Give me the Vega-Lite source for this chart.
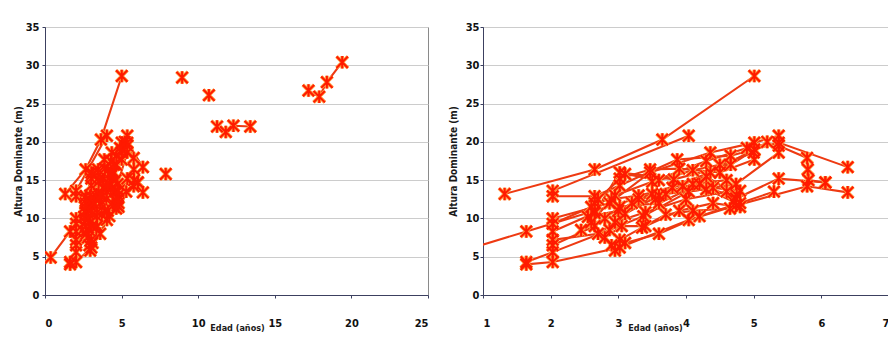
{
  "$schema": "https://vega.github.io/schema/vega-lite/v6.json",
  "background": "white",
  "padding": {"left": 12, "top": 20, "right": 0, "bottom": 0},
  "spacing": 55,
  "bounds": "flush",
  "config": {
    "font": "DejaVu Sans Condensed",
    "view": {"stroke": "#8a8a8a", "strokeWidth": 1},
    "axis": {
      "domainColor": "#3c4060",
      "tickColor": "#3c4060",
      "tickSize": 3,
      "labelFont": "DejaVu Sans Condensed",
      "labelFontWeight": "bold",
      "labelFontSize": 11,
      "labelColor": "#111111",
      "titleFont": "DejaVu Sans Condensed",
      "titleFontWeight": "bold",
      "titleFontSize": 10,
      "titleColor": "#1a1a1a",
      "gridColor": "#cccccc",
      "gridWidth": 1
    },
    "axisX": {"grid": false, "labelPadding": 19, "titleBaseline": "middle", "titleY": 32, "titleFontSize": 9},
    "axisY": {"grid": true, "labelPadding": 3}
  },
  "datasets": {
    "d": [
      {"s": "A", "a": 1.32, "h": 13.2}, {"s": "A", "a": 2.65, "h": 16.4}, {"s": "A", "a": 3.65, "h": 20.3}, {"s": "A", "a": 5.01, "h": 28.6},
      {"s": "B", "a": 2.03, "h": 13.6}, {"s": "B", "a": 4.04, "h": 20.8},
      {"s": "C", "a": 0.37, "h": 4.9}, {"s": "C", "a": 1.64, "h": 8.3}, {"s": "C", "a": 2.65, "h": 11.0}, {"s": "C", "a": 3.5, "h": 13.2}, {"s": "C", "a": 4.36, "h": 16.0}, {"s": "C", "a": 5.01, "h": 19.0},
      {"s": "D", "a": 2.03, "h": 12.9}, {"s": "D", "a": 2.65, "h": 12.9}, {"s": "D", "a": 3.02, "h": 14.3}, {"s": "D", "a": 3.87, "h": 17.7}, {"s": "D", "a": 4.66, "h": 18.2}, {"s": "D", "a": 5.37, "h": 19.9}, {"s": "D", "a": 6.39, "h": 16.7},
      {"s": "E", "a": 2.03, "h": 10.0}, {"s": "E", "a": 2.87, "h": 12.0}, {"s": "E", "a": 3.47, "h": 16.0}, {"s": "E", "a": 4.36, "h": 18.6}, {"s": "E", "a": 5.01, "h": 19.9}, {"s": "E", "a": 5.37, "h": 20.8},
      {"s": "F", "a": 2.03, "h": 8.3}, {"s": "F", "a": 2.65, "h": 10.7}, {"s": "F", "a": 3.02, "h": 16.0}, {"s": "F", "a": 3.82, "h": 15.1}, {"s": "F", "a": 4.66, "h": 17.0}, {"s": "F", "a": 5.2, "h": 20.0},
      {"s": "G", "a": 1.64, "h": 4.3}, {"s": "G", "a": 2.03, "h": 5.6}, {"s": "G", "a": 2.87, "h": 8.5}, {"s": "G", "a": 3.37, "h": 10.3}, {"s": "G", "a": 4.04, "h": 13.5}, {"s": "G", "a": 4.74, "h": 14.5}, {"s": "G", "a": 5.37, "h": 18.6},
      {"s": "H", "a": 1.64, "h": 4.0}, {"s": "H", "a": 2.03, "h": 4.3}, {"s": "H", "a": 3.02, "h": 6.2}, {"s": "H", "a": 4.04, "h": 9.8}, {"s": "H", "a": 4.74, "h": 11.7}, {"s": "H", "a": 5.79, "h": 14.2}, {"s": "H", "a": 6.39, "h": 13.4},
      {"s": "I", "a": 2.03, "h": 6.5}, {"s": "I", "a": 2.65, "h": 9.0}, {"s": "I", "a": 3.02, "h": 11.5}, {"s": "I", "a": 3.6, "h": 12.0}, {"s": "I", "a": 4.2, "h": 14.5}, {"s": "I", "a": 4.74, "h": 12.6}, {"s": "I", "a": 5.37, "h": 15.2}, {"s": "I", "a": 6.06, "h": 14.7},
      {"s": "J", "a": 2.03, "h": 7.2}, {"s": "J", "a": 2.7, "h": 8.0}, {"s": "J", "a": 2.95, "h": 9.5}, {"s": "J", "a": 3.4, "h": 10.8}, {"s": "J", "a": 4.0, "h": 12.5}, {"s": "J", "a": 4.6, "h": 13.5},
      {"s": "K", "a": 2.65, "h": 12.0}, {"s": "K", "a": 3.02, "h": 15.2}, {"s": "K", "a": 3.47, "h": 16.4}, {"s": "K", "a": 3.9, "h": 16.5}, {"s": "K", "a": 4.5, "h": 16.0}, {"s": "K", "a": 5.01, "h": 17.7},
      {"s": "L", "a": 2.6, "h": 9.5}, {"s": "L", "a": 2.9, "h": 12.5}, {"s": "L", "a": 3.3, "h": 13.0}, {"s": "L", "a": 3.8, "h": 14.0}, {"s": "L", "a": 4.3, "h": 15.5}, {"s": "L", "a": 4.75, "h": 13.0},
      {"s": "M", "a": 2.8, "h": 7.5}, {"s": "M", "a": 3.05, "h": 9.0}, {"s": "M", "a": 3.4, "h": 9.0}, {"s": "M", "a": 3.9, "h": 11.0}, {"s": "M", "a": 4.4, "h": 12.0}, {"s": "M", "a": 4.8, "h": 11.5},
      {"s": "N", "a": 2.55, "h": 10.2}, {"s": "N", "a": 3.0, "h": 11.0}, {"s": "N", "a": 3.3, "h": 12.5}, {"s": "N", "a": 3.7, "h": 13.2}, {"s": "N", "a": 4.3, "h": 13.8}, {"s": "N", "a": 4.7, "h": 12.2},
      {"s": "O", "a": 2.9, "h": 6.5}, {"s": "O", "a": 3.02, "h": 7.2}, {"s": "O", "a": 3.35, "h": 8.8}, {"s": "O", "a": 3.7, "h": 10.5}, {"s": "O", "a": 4.1, "h": 11.0}, {"s": "O", "a": 4.65, "h": 11.3},
      {"s": "P", "a": 2.7, "h": 12.5}, {"s": "P", "a": 3.1, "h": 15.8}, {"s": "P", "a": 3.6, "h": 15.0}, {"s": "P", "a": 4.1, "h": 16.3}, {"s": "P", "a": 4.5, "h": 17.0}, {"s": "P", "a": 5.0, "h": 18.6},
      {"s": "Q", "a": 5.37, "h": 19.5}, {"s": "Q", "a": 5.79, "h": 17.9}, {"s": "Q", "a": 5.8, "h": 16.4}, {"s": "Q", "a": 5.81, "h": 15.0}, {"s": "Q", "a": 6.06, "h": 14.7},
      {"s": "R", "a": 2.95, "h": 5.8}, {"s": "R", "a": 3.1, "h": 6.8}, {"s": "R", "a": 3.6, "h": 8.0}, {"s": "R", "a": 4.2, "h": 10.3}, {"s": "R", "a": 4.8, "h": 12.0}, {"s": "R", "a": 5.3, "h": 13.5},
      {"s": "S", "a": 2.03, "h": 9.3}, {"s": "S", "a": 2.6, "h": 11.5}, {"s": "S", "a": 2.95, "h": 13.0}, {"s": "S", "a": 3.5, "h": 14.8}, {"s": "S", "a": 4.3, "h": 17.5}, {"s": "S", "a": 4.9, "h": 19.2},
      {"s": "T", "a": 3.2, "h": 12.0}, {"s": "T", "a": 3.55, "h": 12.5}, {"s": "T", "a": 3.95, "h": 14.2}, {"s": "T", "a": 4.4, "h": 14.0}, {"s": "T", "a": 4.8, "h": 13.6},
      {"s": "U", "a": 2.45, "h": 8.5}, {"s": "U", "a": 2.8, "h": 10.0}, {"s": "U", "a": 3.1, "h": 10.6}, {"s": "U", "a": 3.6, "h": 13.0}, {"s": "U", "a": 4.1, "h": 14.5}, {"s": "U", "a": 4.6, "h": 15.0},
      {"s": "X1", "a": 7.88, "h": 15.8},
      {"s": "X2", "a": 8.95, "h": 28.4},
      {"s": "X3", "a": 10.7, "h": 26.1},
      {"s": "Y", "a": 11.23, "h": 22.0}, {"s": "Y", "a": 11.8, "h": 21.3}, {"s": "Y", "a": 12.3, "h": 22.1}, {"s": "Y", "a": 13.4, "h": 22.0},
      {"s": "Z", "a": 17.2, "h": 26.7}, {"s": "Z", "a": 17.9, "h": 25.9}, {"s": "Z", "a": 18.4, "h": 27.8}, {"s": "Z", "a": 19.4, "h": 30.4}
    ]
  },
  "hconcat": [
    {
      "width": 383,
      "height": 268,
      "data": {"name": "d"},
      "encoding": {
        "x": {"field": "a", "type": "quantitative", "scale": {"domain": [0, 25], "nice": false},
              "axis": {"values": [0, 5, 10, 15, 20, 25], "title": "Edad (años)", "titleX": 192}},
        "y": {"field": "h", "type": "quantitative", "scale": {"domain": [0, 35], "nice": false},
              "axis": {"values": [0, 5, 10, 15, 20, 25, 30, 35], "title": "Altura Dominante (m)", "titlePadding": 2}}
      },
      "layer": [
        {"mark": {"type": "line", "color": "#ee3a12", "strokeWidth": 2.1, "clip": true}, "encoding": {"detail": {"field": "s"}}},
        {"mark": {"type": "point", "shape": "M-1,-1L1,1M-1,1L1,-1M0,-1.1L0,1.1", "size": 130, "filled": false, "color": "#ff9a40", "strokeWidth": 3.6, "opacity": 1, "clip": true}},
        {"mark": {"type": "point", "shape": "M-1,-1L1,1M-1,1L1,-1M0,-1.1L0,1.1", "size": 130, "filled": false, "color": "#ff1a00", "strokeWidth": 2, "opacity": 1, "clip": true}}
      ]
    },
    {
      "width": 406,
      "height": 268,
      "data": {"name": "d"},
      "encoding": {
        "x": {"field": "a", "type": "quantitative", "scale": {"domain": [1, 7], "nice": false},
              "axis": {"values": [1, 2, 3, 4, 5, 6, 7], "title": "Edad (años)", "titleX": 172}},
        "y": {"field": "h", "type": "quantitative", "scale": {"domain": [0, 35], "nice": false},
              "axis": {"values": [0, 5, 10, 15, 20, 25, 30, 35], "title": "Altura Dominante (m)", "titlePadding": 7, "labelPadding": 1}}
      },
      "layer": [
        {"mark": {"type": "line", "color": "#ee3a12", "strokeWidth": 2.1, "clip": true}, "encoding": {"detail": {"field": "s"}}},
        {"mark": {"type": "point", "shape": "M-1,-1L1,1M-1,1L1,-1M0,-1.1L0,1.1", "size": 130, "filled": false, "color": "#ff9a40", "strokeWidth": 3.6, "opacity": 1, "clip": true}},
        {"mark": {"type": "point", "shape": "M-1,-1L1,1M-1,1L1,-1M0,-1.1L0,1.1", "size": 130, "filled": false, "color": "#ff1a00", "strokeWidth": 2, "opacity": 1, "clip": true}}
      ]
    }
  ]
}
